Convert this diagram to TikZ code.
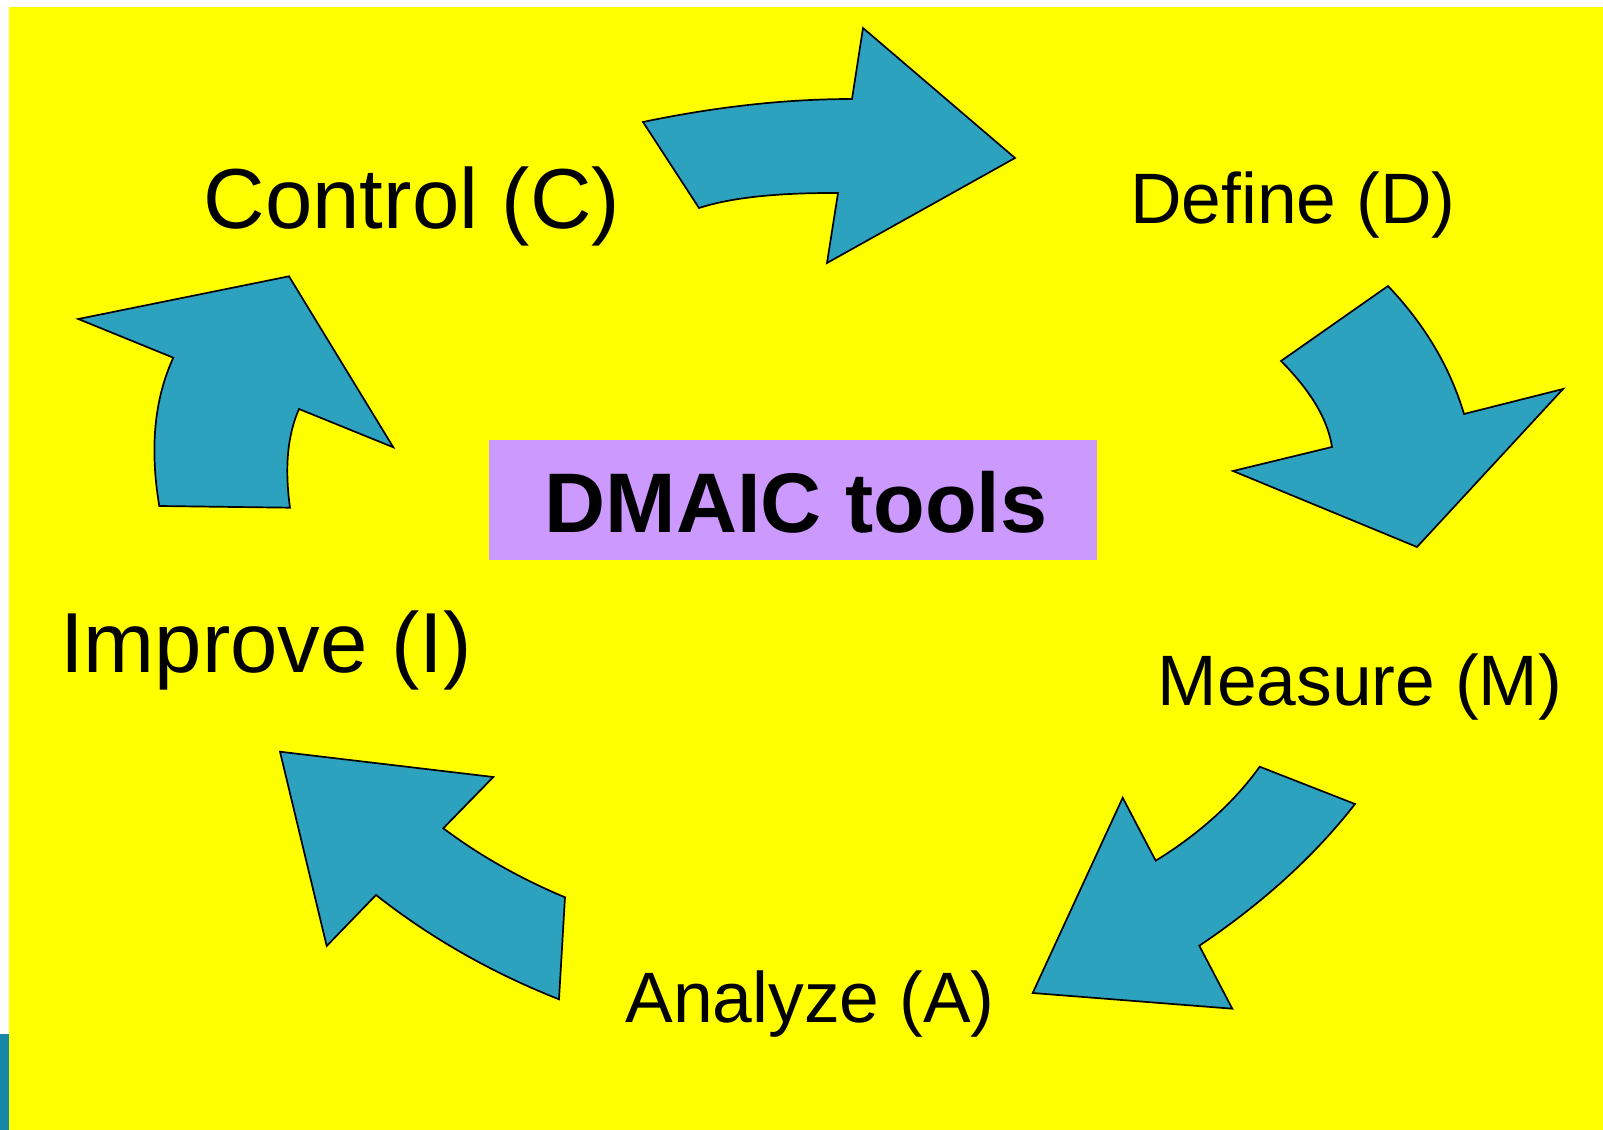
\documentclass[tikz,border=0pt]{standalone}
\usepackage{fontspec}
\setmainfont{Liberation Sans}
\definecolor{arrowteal}{RGB}{44,162,191}
\definecolor{bgyellow}{RGB}{255,255,0}
\definecolor{boxpurple}{RGB}{204,153,255}
\definecolor{edgeteal}{RGB}{22,135,166}
\begin{document}
\begin{tikzpicture}[x=0.5pt,y=-0.5pt,
  barrow/.style={fill=arrowteal, draw=black, line width=0.85pt, line join=miter},
  lbl/.style={anchor=base, inner sep=0pt, font=\fontsize{35.7}{40}\selectfont},
  biglbl/.style={anchor=base, inner sep=0pt, font=\fontsize{42.6}{48}\selectfont},
  titlebox/.style={fill=boxpurple, inner sep=0pt, minimum width=304pt, minimum height=60pt}]
\useasboundingbox (0,0) rectangle (1603,1130);
\fill[white] (0,0) rectangle (1603,1130);
\fill[bgyellow] (9,7) rectangle (1603,1130);
\fill[edgeteal] (0,1034) rectangle (9,1130);

% Control -> Define
\draw[barrow] (643,122) .. controls (716,106.7) and (786,99) .. (852,99) -- (863,28) -- (1015,158) -- (827,263) -- (838,193) .. controls (779,192.7) and (732,197.3) .. (699,208) -- cycle;
% Define -> Measure
\draw[barrow] (1388,286) .. controls (1424.6,324.4) and (1450,367) .. (1464,414) -- (1563,389) -- (1417,547) -- (1233,471) -- (1332,447) .. controls (1327.9,419.7) and (1310.9,391) .. (1281,361) -- cycle;
% Measure -> Analyze
\draw[barrow] (1155.7,860.7) .. controls (1199.3,833.8) and (1234,802.4) .. (1259.7,766.7) -- (1355,804) .. controls (1315.4,854.9) and (1263.5,902.6) .. (1199.3,945.7) -- (1232.3,1008.7) -- (1032.7,993) -- (1122.7,797.7) -- cycle;
% Analyze -> Improve
\draw[barrow] (280,751.7) -- (493.3,777) -- (443.3,828.3) .. controls (479.4,855.4) and (520,878.4) .. (565,897.3) -- (559,999.3) .. controls (491.5,972.6) and (430.5,937.9) .. (376,895) -- (326.7,946) -- cycle;
% Improve -> Control
\draw[barrow] (289,276.3) -- (393.3,447.3) -- (299,409) .. controls (287.5,435) and (284.5,467.8) .. (290,507.7) -- (159.3,506) .. controls (149.6,448.5) and (154.3,399.1) .. (173.3,357.7) -- (78.3,319) -- cycle;

\node[titlebox] (dmaic) at (793,500) {};
\node[anchor=base, inner sep=0pt, font=\bfseries\fontsize{42.3}{48}\selectfont] (dmaictext) at (796,532) {DMAIC tools};
\node[biglbl] (control) at (412,228) {Control (C)};
\node[lbl] (define) at (1293,223) {Define (D)};
\node[lbl] (measure) at (1360,705) {Measure (M)};
\node[lbl] (analyze) at (810,1022) {Analyze (A)};
\node[biglbl] (improve) at (266,672) {Improve (I)};
\end{tikzpicture}
\end{document}
